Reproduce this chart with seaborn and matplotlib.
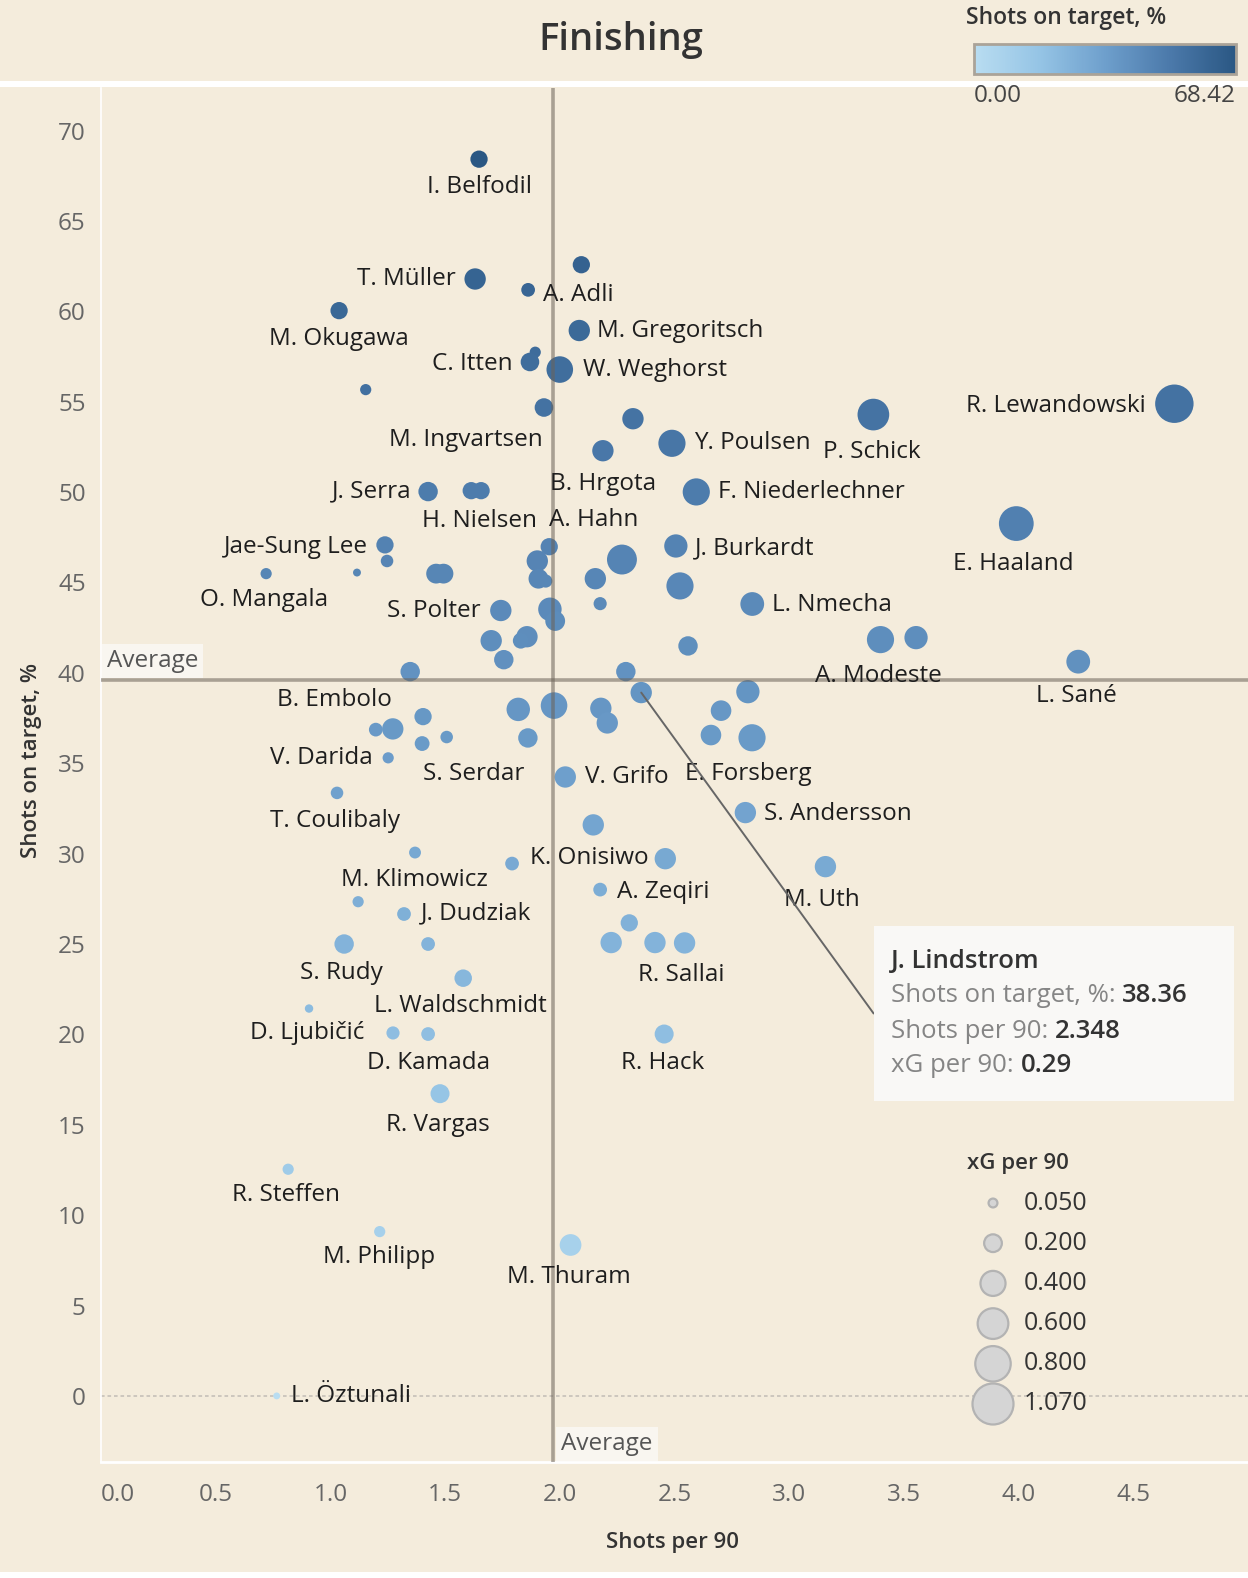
import numpy as np
import pandas as pd
import matplotlib.pyplot as plt
from matplotlib.colors import LinearSegmentedColormap, Normalize
from matplotlib.cm import ScalarMappable
from matplotlib.patches import Rectangle
import seaborn as sns

# =====================================================================
# DATA (read off the Tableau view)
# =====================================================================
players = [
    "I. Belfodil", "", "T. Müller", "A. Adli", "M. Okugawa", "M. Gregoritsch", "", "C. Itten",
    "W. Weghorst", "", "M. Ingvartsen", "", "B. Hrgota", "Y. Poulsen", "P. Schick", "R. Lewandowski",
    "J. Serra", "", "H. Nielsen", "F. Niederlechner", "E. Haaland", "Jae-Sung Lee", "", "A. Hahn",
    "", "", "", "", "", "J. Burkardt", "", "O. Mangala",
    "", "", "", "", "L. Nmecha", "S. Polter", "", "",
    "", "", "", "", "", "A. Modeste", "", "L. Sané",
    "B. Embolo", "", "J. Lindstrom", "", "", "", "", "",
    "", "", "", "", "E. Forsberg", "", "", "S. Serdar",
    "", "V. Darida", "V. Grifo", "T. Coulibaly", "S. Andersson", "", "M. Klimowicz", "K. Onisiwo",
    "", "M. Uth", "A. Zeqiri", "", "J. Dudziak", "", "S. Rudy", "",
    "", "", "R. Sallai", "L. Waldschmidt", "D. Ljubičić", "D. Kamada", "", "R. Hack",
    "R. Vargas", "R. Steffen", "M. Philipp", "M. Thuram", "L. Öztunali",
]
shots_per_90 = [
    1.648, 2.094, 1.631, 1.862, 1.038, 2.085, 1.893, 1.870,
    2.000, 1.154, 1.931, 2.319, 2.188, 2.489, 3.367, 4.679,
    1.426, 1.614, 1.657, 2.595, 3.990, 1.238, 1.247, 1.954,
    1.902, 1.907, 1.939, 2.271, 2.155, 2.506, 2.524, 0.720,
    1.116, 1.461, 1.493, 2.176, 2.839, 1.743, 1.957, 1.980,
    1.701, 1.857, 1.830, 1.756, 2.559, 3.398, 3.553, 4.260,
    1.348, 2.288, 2.355, 2.820, 1.819, 1.975, 2.179, 2.207,
    2.703, 1.404, 1.198, 1.272, 2.838, 2.659, 1.400, 1.507,
    1.861, 1.252, 2.024, 1.029, 2.809, 2.146, 1.369, 1.792,
    2.460, 3.158, 2.176, 1.121, 1.321, 2.303, 1.060, 1.426,
    2.224, 2.415, 2.544, 1.579, 0.907, 1.426, 1.273, 2.455,
    1.478, 0.816, 1.215, 2.047, 0.766,
]
shots_on_target = [
    68.42, 62.58, 61.79, 61.19, 60.04, 58.94, 57.74, 57.20,
    56.78, 55.67, 54.68, 54.06, 52.29, 52.70, 54.29, 54.89,
    50.03, 50.08, 50.08, 50.01, 48.26, 47.08, 46.19, 46.98,
    46.19, 45.21, 45.08, 46.27, 45.21, 47.02, 44.81, 45.49,
    45.55, 45.49, 45.49, 43.83, 43.81, 43.45, 43.52, 42.87,
    41.78, 42.00, 41.78, 40.73, 41.49, 41.84, 41.95, 40.62,
    40.07, 40.07, 38.91, 38.96, 37.98, 38.19, 38.04, 37.23,
    37.91, 37.58, 36.86, 36.90, 36.41, 36.56, 36.09, 36.45,
    36.40, 35.30, 34.24, 33.36, 32.27, 31.59, 30.06, 29.45,
    29.72, 29.28, 28.01, 27.34, 26.66, 26.17, 25.00, 25.00,
    25.08, 25.08, 25.06, 23.11, 21.43, 20.02, 20.08, 20.02,
    16.72, 12.54, 9.09, 8.35, 0.00,
]
xg_per_90 = [
    0.19, 0.19, 0.29, 0.12, 0.19, 0.29, 0.08, 0.22,
    0.45, 0.08, 0.22, 0.29, 0.29, 0.47, 0.64, 0.94,
    0.24, 0.19, 0.19, 0.47, 0.77, 0.19, 0.10, 0.19,
    0.29, 0.25, 0.11, 0.57, 0.29, 0.345, 0.47, 0.08,
    0.04, 0.25, 0.25, 0.11, 0.36, 0.29, 0.35, 0.25,
    0.29, 0.29, 0.16, 0.24, 0.24, 0.47, 0.345, 0.36,
    0.24, 0.24, 0.29, 0.345, 0.35, 0.45, 0.29, 0.29,
    0.27, 0.19, 0.12, 0.29, 0.47, 0.27, 0.14, 0.10,
    0.24, 0.08, 0.29, 0.10, 0.29, 0.29, 0.09, 0.12,
    0.29, 0.29, 0.12, 0.08, 0.12, 0.19, 0.24, 0.12,
    0.29, 0.29, 0.29, 0.195, 0.045, 0.12, 0.11, 0.23,
    0.23, 0.08, 0.08, 0.30, 0.03,
]

avg_shots_per_90 = 1.972
avg_on_target = 39.6

sot_range = (0.0, 68.42)
xg_legend = [0.05, 0.2, 0.4, 0.6, 0.8, 1.07]
tooltip = ["J. Lindstrom", "38.36", "2.348", "0.29"]

df = pd.DataFrame({"player": players, "shots90": shots_per_90,
                   "sot": shots_on_target, "xg": xg_per_90})

# label placement next to each mark: (dx px, dy px downward, ha)
label_pos = {
    "I. Belfodil": (0, 28, "center"), "T. Müller": (-19, 0, "right"), "A. Adli": (15, 5, "left"),
    "M. Okugawa": (0, 28, "center"), "M. Gregoritsch": (18, 0, "left"), "C. Itten": (-17, 2, "right"),
    "W. Weghorst": (23, 0, "left"), "M. Ingvartsen": (-1, 32, "right"), "Y. Poulsen": (22, 0, "left"),
    "P. Schick": (-2, 37, "center"), "R. Lewandowski": (-29, 2, "right"), "B. Hrgota": (0, 33, "center"),
    "J. Serra": (-17, 0, "right"), "H. Nielsen": (-2, 30, "center"), "F. Niederlechner": (22, 0, "left"),
    "A. Hahn": (0, -27, "left"), "Jae-Sung Lee": (-17, 2, "right"), "E. Haaland": (-3, 40, "center"),
    "J. Burkardt": (19, 2, "left"), "O. Mangala": (-2, 26, "center"), "S. Polter": (-20, 0, "right"),
    "L. Nmecha": (20, 1, "left"), "A. Modeste": (-2, 36, "center"), "L. Sané": (-2, 34, "center"),
    "B. Embolo": (-18, 28, "right"), "V. Darida": (-15, 0, "right"), "S. Serdar": (-24, 37, "left"),
    "V. Grifo": (20, 0, "left"), "E. Forsberg": (-4, 36, "center"), "T. Coulibaly": (-2, 28, "center"),
    "S. Andersson": (19, 1, "left"), "K. Onisiwo": (18, -6, "left"), "M. Klimowicz": (-1, 27, "center"),
    "A. Zeqiri": (17, 2, "left"), "M. Uth": (-4, 33, "center"), "J. Dudziak": (17, -1, "left"),
    "S. Rudy": (-3, 29, "center"), "R. Sallai": (-3, 32, "center"), "L. Waldschmidt": (-3, 28, "center"),
    "D. Ljubičić": (-2, 24, "center"), "D. Kamada": (0, 29, "center"), "R. Hack": (-2, 29, "center"),
    "R. Vargas": (-2, 31, "center"), "R. Steffen": (-2, 26, "center"), "M. Philipp": (-1, 25, "center"),
    "M. Thuram": (-2, 32, "center"), "L. Öztunali": (14, 0, "left"),
}

# =====================================================================
# STYLE
# =====================================================================
BG = "#f4ecdc"
DARK = "#333333"
FS = 17.5  # base text size
sns.set_theme(style="white")
plt.rcParams["font.family"] = ["Open Sans", "DejaVu Sans"]

blues = LinearSegmentedColormap.from_list(
    "tab_blue", ["#b9ddf1", "#95c4e5", "#6e9fcc", "#4b79aa", "#2a5783"])
S_PER_XG = 814  # marker area (pt^2) per unit of xG

fig = plt.figure(figsize=(12.48, 15.78), dpi=100, facecolor=BG)
ax = fig.add_axes([0.0809, 0.0737, 0.9191, 0.8708], facecolor=BG)

# ---------------------------------------------------------------------
# scatter
# ---------------------------------------------------------------------
sns.scatterplot(data=df, x="shots90", y="sot", hue="sot", size="xg",
                palette=blues, hue_norm=sot_range,
                sizes=(0, S_PER_XG * max(xg_legend)), size_norm=(0, max(xg_legend)),
                linewidth=0, alpha=1, legend=False, ax=ax, zorder=3)

ax.set_xlim(0, 5.0)
ax.set_ylim(-3.64, 72.38)
ax.set_xticks(np.arange(0, 4.51, 0.5))
ax.set_xticklabels([f"{v:.1f}" for v in np.arange(0, 4.51, 0.5)])
ax.set_yticks(np.arange(0, 71, 5))
ax.get_xticklabels()[0].set_horizontalalignment("left")

ax.tick_params(axis="y", length=7, width=1.2, color="white", pad=4,
               labelsize=FS, labelcolor="#666666")
ax.tick_params(axis="x", length=5, width=1.2, color="white", pad=10,
               labelsize=FS, labelcolor="#666666")
for side in ["top", "right"]:
    ax.spines[side].set_visible(False)
ax.spines["left"].set_color("white")
ax.spines["left"].set_linewidth(1.2)
ax.spines["bottom"].set_color("white")
ax.spines["bottom"].set_linewidth(2)

ax.set_xlabel("Shots per 90", fontsize=16, fontweight="semibold", color=DARK)
ax.set_ylabel("Shots on target, %", fontsize=16, fontweight="semibold", color=DARK)
ax.xaxis.set_label_coords(0.4987, -0.0515)
ax.yaxis.set_label_coords(-0.0514, 0.51)

# zero line + average reference lines
ax.axhline(0, color="#c9c4bb", lw=1.3, ls=(0, (2, 1.6)), zorder=1)
ax.axvline(avg_shots_per_90, color="#6b6257", alpha=0.55, lw=2.6, zorder=4)
ax.axhline(avg_on_target, color="#6b6257", alpha=0.55, lw=2.6, zorder=4)

box = dict(boxstyle="square,pad=0.2", fc="#f9f6f0", ec="none")
ax.annotate("Average", (0, avg_on_target), xycoords=("axes fraction", "data"),
            xytext=(6, 19), textcoords="offset pixels", ha="left", va="center",
            fontsize=FS, color="#555555", bbox=box, zorder=5)
ax.annotate("Average", (avg_shots_per_90, 0), xycoords=("data", "axes fraction"),
            xytext=(8, 18), textcoords="offset pixels", ha="left", va="center",
            fontsize=FS, color="#555555", bbox=box, zorder=5)

# mark labels
for _, row in df.iterrows():
    if row["player"] in label_pos:
        dx, dy, ha = label_pos[row["player"]]
        ax.annotate(row["player"], (row["shots90"], row["sot"]), xytext=(dx, -dy),
                    textcoords="offset pixels", ha=ha, va="center",
                    fontsize=FS, color="#1e1e1e", zorder=6)

# tooltip leader line to the J. Lindstrom mark
tip = df[df["player"] == tooltip[0]].iloc[0]
ax.annotate("", (tip["shots90"], tip["sot"]), xytext=(0.6736, 0.3262),
            textcoords="axes fraction",
            arrowprops=dict(arrowstyle="-", color="#666666", lw=1.4,
                            shrinkA=0, shrinkB=0), zorder=7)
ax.add_patch(Rectangle((0.6736, 0.2624), 0.3141, 0.1275, transform=ax.transAxes,
                       fc="#f9f8f6", ec="none", zorder=8))

# ---------------------------------------------------------------------
# overlay in pixel coordinates: header, legends, tooltip text
# ---------------------------------------------------------------------
ov = fig.add_axes([0, 0, 1, 1])
ov.set_xlim(0, 1248)
ov.set_ylim(1578, 0)
ov.axis("off")

ov.add_patch(Rectangle((0, 80.5), 1248, 6.5, fc="white", ec="none"))
ov.add_patch(Rectangle((0, 1572), 1248, 6, fc="white", ec="none"))
ov.text(621, 40, "Finishing", ha="center", va="center", fontsize=27.5,
        fontweight="semibold", color=DARK)

# colour legend
ov.text(966, 18, "Shots on target, %", ha="left", va="center", fontsize=16.5,
        fontweight="semibold", color=DARK)
cax = fig.add_axes([974 / 1248, 1 - 73.5 / 1578, 262 / 1248, 29.2 / 1578])
cb = fig.colorbar(ScalarMappable(Normalize(*sot_range), blues), cax=cax,
                  orientation="horizontal")
cb.set_ticks([])
cb.outline.set_edgecolor("#aaa398")
cb.outline.set_linewidth(2)
ov.text(974, 96, f"{sot_range[0]:.2f}", ha="left", va="center", fontsize=FS, color="#444444")
ov.text(1236, 96, f"{sot_range[1]:.2f}", ha="right", va="center", fontsize=FS, color="#444444")

# size legend
ov.text(1018, 1164, "xG per 90", ha="center", va="center", fontsize=16,
        fontweight="semibold", color=DARK)
leg_y = 1203 + 40.2 * np.arange(len(xg_legend))
ov.scatter([993] * len(xg_legend), leg_y, s=[S_PER_XG * v for v in xg_legend],
           c="#d5d5d5", edgecolors="#b3b3b3", linewidths=1.6, zorder=3)
for v, y in zip(xg_legend, leg_y):
    ov.text(1024, y, f"{v:.3f}", ha="left", va="center", fontsize=18, color=DARK, zorder=4)

# tooltip text (grey captions, bold values)
renderer = fig.canvas.get_renderer()
ov.text(891, 961, tooltip[0], ha="left", va="center", fontsize=18.5,
        fontweight="semibold", color=DARK, zorder=10)
rows = [("Shots on target, %: ", tooltip[1]), ("Shots per 90: ", tooltip[2]),
        ("xG per 90: ", tooltip[3])]
for (cap, val), y in zip(rows, [995.5, 1031, 1065]):
    t = ov.text(891, y, cap, ha="left", va="center", fontsize=18.5, color="#858585", zorder=10)
    x1 = t.get_window_extent(renderer=renderer).x1
    ov.text(x1, y, val, ha="left", va="center", fontsize=18.5, fontweight="semibold",
            color=DARK, zorder=10)

fig.savefig("out.png", dpi=100, facecolor=BG)
